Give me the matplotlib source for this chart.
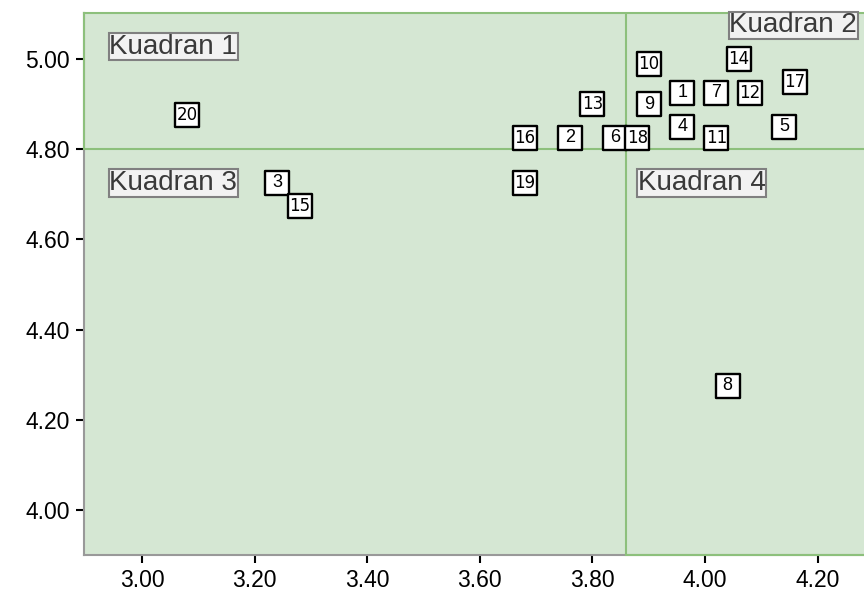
import matplotlib.pyplot as plt

# data
ids = ["1", "2", "3", "4", "5", "6", "7", "8", "9", "10",
       "11", "12", "13", "14", "15", "16", "17", "18", "19", "20"]
x_vals = [3.96, 3.76, 3.24, 3.96, 4.14, 3.84, 4.02, 4.04, 3.90, 3.90,
          4.02, 4.08, 3.80, 4.06, 3.28, 3.68, 4.16, 3.88, 3.68, 3.08]
y_vals = [4.925, 4.825, 4.725, 4.85, 4.85, 4.825, 4.925, 4.275, 4.90, 4.99,
          4.825, 4.925, 4.90, 5.00, 4.675, 4.825, 4.95, 4.825, 4.725, 4.875]

quad_names = ["Kuadran 1", "Kuadran 2", "Kuadran 3", "Kuadran 4"]
quad_x = [2.942, 4.043, 2.942, 3.881]
quad_y = [5.027, 5.075, 4.725, 4.725]

x_cut = 3.86
y_cut = 4.80
xticks = [3.0, 3.2, 3.4, 3.6, 3.8, 4.0, 4.2]
yticks = [4.0, 4.2, 4.4, 4.6, 4.8, 5.0]

green = "#8dc07c"
bg = "#d5e7d3"
plt.rcParams['font.family'] = ['Liberation Sans', 'DejaVu Sans']

fig = plt.figure(figsize=(8.64, 5.99), dpi=100)
ax = fig.add_axes([84 / 864, 1 - 555 / 599, 1 - 84 / 864, (555 - 13) / 599])
ax.set_facecolor(bg)
ax.set_xlim(2.897, 4.2824)
ax.set_ylim(3.90, 5.102)

ax.axvline(x_cut, color=green, lw=1.5, zorder=1)
ax.axhline(y_cut, color=green, lw=1.5, zorder=1)

for s in ["left", "bottom"]:
    ax.spines[s].set_color("#999999")
    ax.spines[s].set_linewidth(1.5)
ax.spines["top"].set_color(green)
ax.spines["top"].set_linewidth(1.5)
ax.spines["right"].set_visible(False)
# green frame pieces on the upper-left and lower-right
ax.plot([0, 0], [y_cut, 5.102], color=green, lw=1.5, clip_on=False, zorder=3,
        transform=ax.get_yaxis_transform())
ax.plot([x_cut, 4.2824], [0, 0], color=green, lw=1.5, clip_on=False, zorder=3,
        transform=ax.get_xaxis_transform())

ax.scatter(x_vals, y_vals, marker="s", s=17 ** 2, facecolor="white",
           edgecolor="black", linewidth=1.7, zorder=4)
for lab, x, y in zip(ids, x_vals, y_vals):
    ax.text(x, y, lab, ha="center", va="center", zorder=5,
            fontsize=12 if len(lab) > 1 else 13,
            family="DejaVu Sans Condensed" if len(lab) > 1 else None)

for name, x, y in zip(quad_names, quad_x, quad_y):
    ax.text(x, y, name, ha="left", va="center", fontsize=20, color="#3a3a3a",
            zorder=4,
            bbox=dict(boxstyle="square,pad=0.02", facecolor="#f2f2f2",
                      edgecolor="#808080", linewidth=1.5))

ax.set_xticks(xticks)
ax.set_xticklabels([f"{t:.2f}" for t in xticks])
ax.set_yticks(yticks)
ax.set_yticklabels([f"{t:.2f}" for t in yticks])
ax.tick_params(direction="out", length=6, width=1.5, labelsize=16.5,
               colors="black", pad=4)

fig.savefig("out.png", dpi=100)
